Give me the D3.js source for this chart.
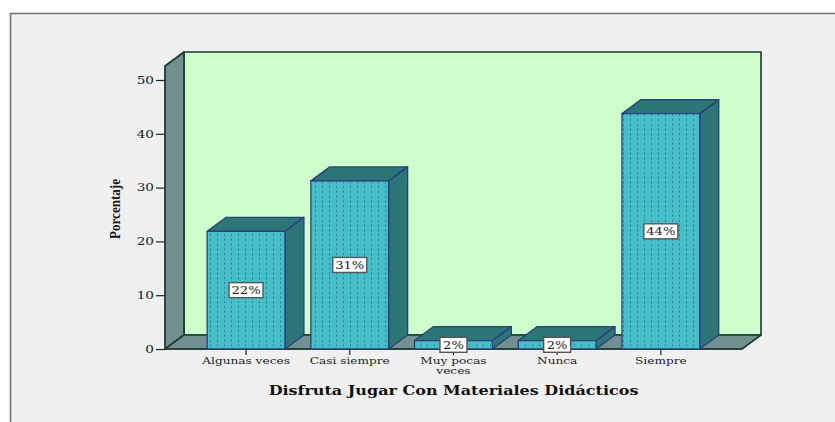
<!DOCTYPE html>
<html><head><meta charset="utf-8">
<script src="https://cdn.jsdelivr.net/npm/d3@7/dist/d3.min.js"></script>
<style>html,body{margin:0;padding:0;background:#fff;overflow:hidden}svg{display:block}</style></head>
<body><svg id="c" width="835" height="422"></svg>
<script>
const categories = ["Algunas veces","Casi siempre","Muy pocas veces","Nunca","Siempre"];
const values = [21.875,31.25,1.5625,1.5625,43.75];
const valueLabels = ["22%","31%","2%","2%","44%"];
const yTicks = [0,10,20,30,40,50];
const xTitle = "Disfruta Jugar Con Materiales Didácticos";
const yTitle = "Porcentaje";

const svg = d3.select("#c");
const y = d3.scaleLinear().domain([0,50]).range([349,80]);
const x = d3.scaleBand().domain(categories).range([194.2,712.7]).paddingInner(0.25).paddingOuter(0.125);
const dx = 19, dy = -14, plotL = 165, plotR = 742, plotT = 66, base = y(0);
const serif = "'DejaVu Serif','Liberation Serif',serif";
const dark = "#1d3a33", side = "#2c7678", floorC = "#71908f", barC = "#48bec8", edge = "#2a3f7e";

const defs = svg.append("defs");
const pat = defs.append("pattern").attr("id","dots").attr("patternUnits","userSpaceOnUse")
  .attr("width",7).attr("height",4.8).attr("x",208).attr("y",233);
pat.append("rect").attr("width",7).attr("height",4.8).attr("fill",barC);
pat.append("rect").attr("x",2).attr("y",1).attr("width",1).attr("height",2).attr("fill","#2f78a4");

// panel
svg.append("rect").attr("x",10.5).attr("y",13.5).attr("width",840).attr("height",430)
  .attr("fill","#f0f0f0").attr("stroke","#777").attr("stroke-width",1.6);

// walls and floor
const poly = (pts,fill,stroke,w) => svg.append("polygon").attr("points",pts.map(p=>p.join(",")).join(" "))
  .attr("fill",fill).attr("stroke",stroke).attr("stroke-width",w).attr("stroke-linejoin","round");
poly([[plotL+dx,plotT+dy],[plotR+dx,plotT+dy],[plotR+dx,base+dy],[plotL+dx,base+dy]],"#ccffcc",dark,1.6);
poly([[plotL,base],[plotL,plotT],[plotL+dx,plotT+dy],[plotL+dx,base+dy]],floorC,dark,1.8);
poly([[plotL,base],[plotL+dx,base+dy],[plotR+dx,base+dy],[plotR,base]],floorC,dark,1.6);

// y axis
const yAxis = d3.axisLeft(y).tickValues(yTicks).tickSize(9).tickPadding(2);
const gy = svg.append("g").attr("transform",`translate(${plotL},0)`).call(yAxis);
gy.select(".domain").remove();
gy.selectAll("line").attr("stroke","#222").attr("stroke-width",1.2);
gy.selectAll("text").attr("font-family",serif).attr("font-size",10.5).attr("fill","#222")
  .attr("x",-11/1.3).attr("transform","scale(1.3,1)");

// x axis
const tickScale = 1.43;
const xAxis = d3.axisBottom(x).tickSize(6).tickPadding(3);
const gx = svg.append("g").attr("transform",`translate(0,${base})`).call(xAxis);
gx.select(".domain").remove();
gx.selectAll("line").attr("stroke","#222").attr("stroke-width",1.2);
gx.selectAll("text").attr("font-family",serif).attr("font-size",8.5).attr("fill","#222")
  .attr("transform",`scale(${tickScale},1)`).each(function(d){
  const t = d3.select(this), words = d.split(" ");
  if (d.length > 13) {
    const yy = t.attr("y"); t.text(null);
    t.append("tspan").attr("x",0).attr("y",yy).attr("dy","0.71em").text(words.slice(0,2).join(" "));
    t.append("tspan").attr("x",0).attr("y",yy).attr("dy","1.9em").text(words.slice(2).join(" "));
  }
});
svg.append("line").attr("x1",plotL).attr("x2",plotR).attr("y1",base).attr("y2",base).attr("stroke",dark).attr("stroke-width",1.6);

// bars
const bars = svg.selectAll("g.bar").data(categories.map((c,i)=>({c,v:values[i],l:valueLabels[i]}))).join("g").attr("class","bar");
bars.each(function(d){
  const g = d3.select(this), x0 = x(d.c), x1 = x0 + x.bandwidth(), yt = y(d.v);
  const p = (pts,fill) => g.append("polygon").attr("points",pts.map(q=>q.join(",")).join(" "))
    .attr("fill",fill).attr("stroke",edge).attr("stroke-width",1.3).attr("stroke-linejoin","round");
  p([[x1,base],[x1,yt],[x1+dx,yt+dy],[x1+dx,base+dy]],side);
  p([[x0,yt],[x0+dx,yt+dy],[x1+dx,yt+dy],[x1,yt]],side);
  p([[x0,base],[x0,yt],[x1,yt],[x1,base]],"url(#dots)");
});
// value labels
bars.each(function(d){
  const g = d3.select(this), cx = x(d.c)+x.bandwidth()/2, cy = (y(d.v)+base)/2;
  const w = d.l.length===3 ? 34 : 27, h = 15;
  const yc = Math.min(cy, base-3.5);
  g.append("rect").attr("x",cx-w/2).attr("y",yc-h/2).attr("width",w).attr("height",h)
    .attr("fill","#fff").attr("stroke","#555").attr("stroke-width",1.4);
  g.append("text").attr("transform",`translate(${cx},${yc}) scale(1.14,1)`).attr("dy","0.36em").attr("text-anchor","middle")
    .attr("font-family",serif).attr("font-size",11.5).attr("fill","#222").text(d.l);
});

// titles
svg.append("text").attr("transform","translate(453.5,394.5) scale(1.28,1)").attr("text-anchor","middle")
  .attr("font-family",serif).attr("font-weight","bold").attr("font-size",12.5).attr("fill","#111").text(xTitle);
svg.append("text").attr("transform","translate(120,209) rotate(-90)").attr("text-anchor","middle")
  .attr("font-family","'Liberation Serif',serif").attr("font-weight","bold").attr("font-size",15).attr("fill","#111")
  .attr("textLength",60).attr("lengthAdjust","spacingAndGlyphs").text(yTitle);
</script></body></html>
